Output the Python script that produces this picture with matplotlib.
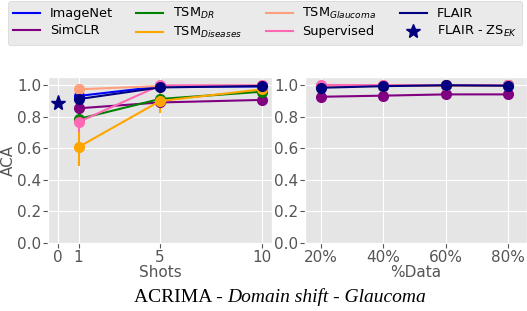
import numpy as np
import matplotlib
matplotlib.use('Agg')
import matplotlib.pyplot as plt
from matplotlib.lines import Line2D

plt.style.use('ggplot')

# data
shots = [1, 5, 10]
pcts = [20, 40, 60, 80]
names = ['ImageNet', 'SimCLR', 'TSM$_{DR}$', 'TSM$_{Diseases}$',
         'TSM$_{Glaucoma}$', 'Supervised', 'FLAIR']
colors = ['blue', 'purple', 'green', 'orange', 'lightsalmon', 'hotpink', 'navy']

shots_mean = [
    [0.93, 0.99, 0.99],      # ImageNet
    [0.852, 0.889, 0.905],   # SimCLR
    [0.784, 0.911, 0.957],   # TSM_DR
    [0.607, 0.898, 0.972],   # TSM_Diseases
    [0.972, 0.993, 0.997],   # TSM_Glaucoma
    [0.765, 0.997, 0.997],   # Supervised
    [0.91, 0.984, 0.993],    # FLAIR
]
shots_std = [
    [0.02, 0.005, 0.005],
    [0.02, 0.01, 0.01],
    [0.02, 0.02, 0.01],
    [0.12, 0.075, 0.01],
    [0.01, 0.005, 0.003],
    [0.06, 0.005, 0.003],
    [0.02, 0.01, 0.005],
]
pct_mean = [
    [0.99, 0.995, 0.997, 0.997],
    [0.925, 0.932, 0.94, 0.94],
    [0.99, 0.995, 0.997, 0.997],
    [0.99, 0.995, 0.997, 0.997],
    [0.995, 0.997, 0.998, 0.998],
    [1.0, 0.998, 0.998, 0.998],
    [0.982, 0.992, 0.998, 0.995],
]
pct_std = [
    [0.005, 0.003, 0.003, 0.003],
    [0.005, 0.005, 0.005, 0.005],
    [0.005, 0.003, 0.003, 0.003],
    [0.005, 0.003, 0.003, 0.003],
    [0.003, 0.003, 0.003, 0.003],
    [0.003, 0.003, 0.003, 0.003],
    [0.01, 0.005, 0.005, 0.035],
]
zs_x = 0
zs_acc = 0.885

fig = plt.figure(figsize=(5.27, 3.11), dpi=100)
ax1 = fig.add_axes([48/527, 1-243/311, 224/527, 166/311])
ax2 = fig.add_axes([305/527, 1-243/311, 222/527, 166/311])

for i in range(len(names)):
    ax1.errorbar(shots, shots_mean[i], yerr=shots_std[i], color=colors[i],
                 marker='o', markersize=7, linewidth=1.5)
    ax2.errorbar(pcts, pct_mean[i], yerr=pct_std[i], color=colors[i],
                 marker='o', markersize=7, linewidth=1.5)
ax1.plot(zs_x, zs_acc, '*', color='navy', markersize=11, linestyle='none')

ax1.set_xlim(-0.5, 10.5)
ax1.set_ylim(0, 1.05)
ax1.set_xticks([0, 1, 5, 10])
ax1.set_yticks(np.arange(0, 1.01, 0.2))
ax1.set_xlabel('Shots', fontsize=11, labelpad=0)
ax1.set_ylabel('ACA', fontsize=11, labelpad=1)

ax2.set_xlim(15, 86)
ax2.set_ylim(0, 1.05)
ax2.set_xticks(pcts)
ax2.set_xticklabels([str(p) + '%' for p in pcts])
ax2.set_yticks(np.arange(0, 1.01, 0.2))
ax2.set_xlabel('%Data', fontsize=11, labelpad=0)

for ax in [ax1, ax2]:
    ax.tick_params(labelsize=11, pad=1.5)

# legend: lines only, star for zero-shot
line_h = [Line2D([], [], color=c, linewidth=1.5) for c in colors]
line_h.append(Line2D([], [], color='navy', marker='*', linestyle='none', markersize=10))
lab = names + ['FLAIR - ZS$_{EK}$']
fig.legend(line_h, lab, ncol=4, loc='upper left', bbox_to_anchor=(8/527, 1-1/311),
           fontsize=9.3, frameon=True, facecolor='#E5E5E5', edgecolor='#CCCCCC',
           handlelength=2.1, columnspacing=1.8, handletextpad=0.75,
           borderpad=0.4, labelspacing=0.3, borderaxespad=0)

fig.text(0.431, 1-297/311, 'ACRIMA - ', family='Liberation Serif', fontsize=14,
         ha='right', va='center')
fig.text(0.431, 1-297/311, 'Domain shift - Glaucoma', family='Liberation Serif',
         style='italic', fontsize=14, ha='left', va='center')

fig.savefig('out.png', dpi=100)
